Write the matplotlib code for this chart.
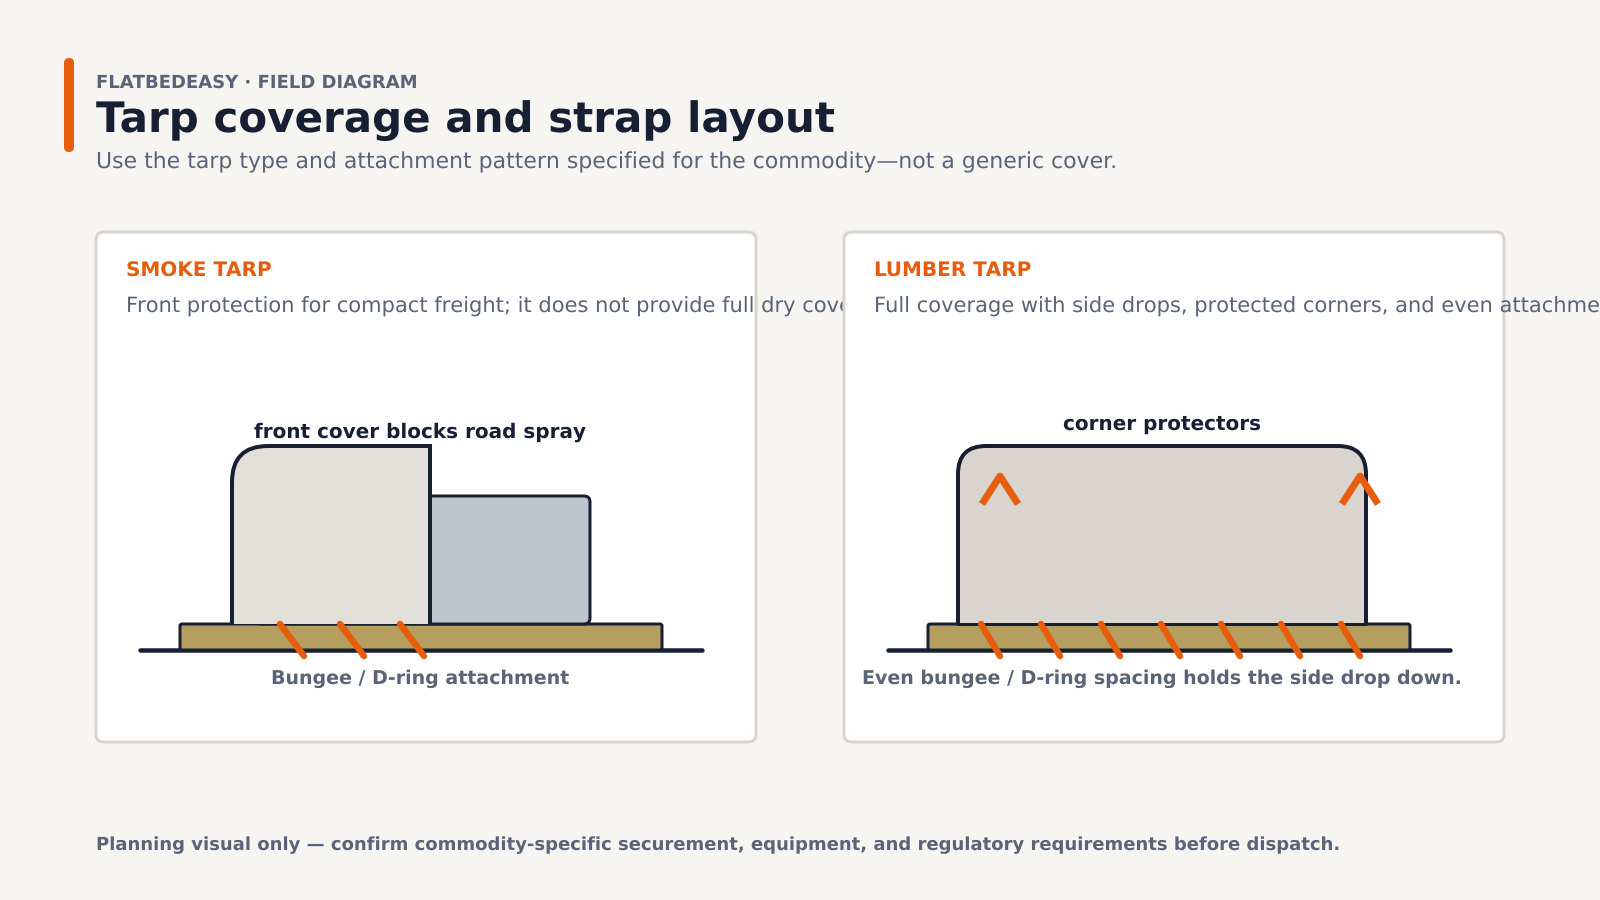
import matplotlib
matplotlib.use('Agg')
import matplotlib.pyplot as plt
from matplotlib.patches import FancyBboxPatch, PathPatch
from matplotlib.path import Path

plt.rcParams['text.hinting'] = 'none'
plt.rcParams['text.hinting_factor'] = 1

BG = '#f6f5f1'
NAVY = '#172033'
ORANGE = '#e85d0c'
SLATE = '#5a6478'
BORDER = '#d9d4cc'

eyebrow = 'FLATBEDEASY · FIELD DIAGRAM'
title = 'Tarp coverage and strap layout'
subtitle = 'Use the tarp type and attachment pattern specified for the commodity—not a generic cover.'
footer = 'Planning visual only — confirm commodity-specific securement, equipment, and regulatory requirements before dispatch.'

card_x = [96, 844]
card_heads = ['SMOKE TARP', 'LUMBER TARP']
head_y = [276.5, 276]
card_texts = ['Front protection for compact freight; it does not provide full dry coverage.',
              'Full coverage with side drops, protected corners, and even attachment.']
top_notes = ['front cover blocks road spray', 'corner protectors']
top_note_y = [438, 430]
bottom_notes = ['Bungee / D-ring attachment', 'Even bungee / D-ring spacing holds the side drop down.']
note_cx = [420, 1162]

smoke_straps = [280, 340, 400]
lumber_straps = [981, 1041, 1101, 1161, 1221, 1281, 1341]
chevrons = [1000, 1360]

fig = plt.figure(figsize=(16, 9), dpi=100, facecolor=BG)
ax = fig.add_axes([0, 0, 1, 1])
ax.set_xlim(0, 1600)
ax.set_ylim(900, 0)
ax.axis('off')


def px(size):
    # font size given in image pixels
    return size * 0.72


def rbox(x, y, w, h, r, fc, ec, lw, z):
    p = FancyBboxPatch((x + r, y + r), w - 2 * r, h - 2 * r, boxstyle='round,pad=%d,rounding_size=%d' % (r, r),
                       fc=fc, ec=ec, lw=lw * 0.72, zorder=z)
    ax.add_patch(p)


def stroke(xs, ys, color, lw, z, cap='round'):
    ax.plot(xs, ys, color=color, lw=lw * 0.72, solid_capstyle=cap, solid_joinstyle='round', zorder=z)


# header
rbox(64, 58, 10, 94, 5, ORANGE, 'none', 0, 2)
ax.text(96, 88, eyebrow, fontsize=px(18), fontweight='bold', color=SLATE, va='baseline', zorder=3)
ax.text(96, 132, title, fontsize=px(42), fontweight='bold', color=NAVY, va='baseline', zorder=3)
ax.text(96, 168, subtitle, fontsize=px(22), color=SLATE, va='baseline', zorder=3)

# cards, the right one goes over the overflowing text of the left one
for i, x in enumerate(card_x):
    z = 10 + i * 10
    rbox(x, 232, 660, 510, 8, 'white', BORDER, 3, z)
    ax.text(x + 30, head_y[i], card_heads[i], fontsize=px(20), fontweight='bold', color=ORANGE, zorder=z + 1)
    ax.text(x + 30, 313, card_texts[i], fontsize=px(20.95), color=SLATE, zorder=z + 1)

    # ground and bed
    stroke([x + 44, x + 606], [650, 650], NAVY, 4.5, z + 1)
    rbox(x + 84, 624, 482, 26, 2, '#b59e5f', NAVY, 3, z + 2)

    ax.text(note_cx[i], top_note_y[i], top_notes[i], fontsize=px(20), fontweight='bold', color=NAVY,
            ha='center', zorder=z + 6)
    ax.text(note_cx[i], 684, bottom_notes[i], fontsize=px(19), fontweight='bold', color=SLATE,
            ha='center', zorder=z + 6)

# smoke tarp
rbox(256, 496, 334, 128, 6, '#bdc4cc', NAVY, 3, 13)
verts = [(232, 624), (232, 482), (232, 446), (268, 446), (430, 446), (430, 624)]
codes = [Path.MOVETO, Path.LINETO, Path.CURVE3, Path.CURVE3, Path.LINETO, Path.LINETO]
ax.add_patch(PathPatch(Path(verts, codes), fc='#e3e0d9', ec=NAVY, lw=4 * 0.72, joinstyle='miter', zorder=14))
for sx in smoke_straps:
    stroke([sx, sx + 24], [624, 656], ORANGE, 6.5, 15)

# lumber tarp
verts = [(958, 624), (958, 474), (958, 446), (986, 446), (1338, 446), (1366, 446), (1366, 474), (1366, 624)]
codes = [Path.MOVETO, Path.LINETO, Path.CURVE3, Path.CURVE3, Path.LINETO, Path.CURVE3, Path.CURVE3, Path.LINETO]
ax.add_patch(PathPatch(Path(verts, codes), fc='#d9d4cd', ec=NAVY, lw=4 * 0.72, zorder=24))
stroke([958, 1366], [624, 624], NAVY, 3, 24)
for sx in lumber_straps:
    stroke([sx, sx + 19], [624, 656], ORANGE, 6.5, 25)
for cx in chevrons:
    stroke([cx - 18, cx, cx + 18], [504, 476, 504], ORANGE, 7, 25, cap='butt')

ax.text(96, 850, footer, fontsize=px(18), fontweight='bold', color=SLATE, zorder=3)

fig.savefig('out.png', dpi=100, facecolor=BG)
